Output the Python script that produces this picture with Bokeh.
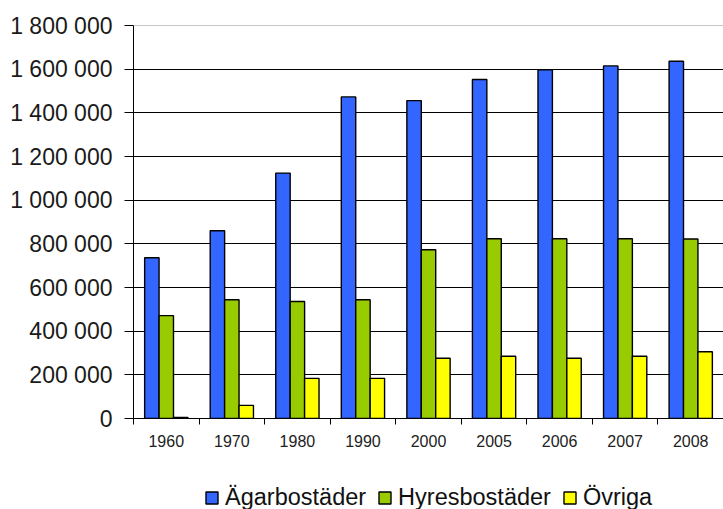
from bokeh.plotting import figure
from bokeh.layouts import column
from bokeh.models import Range1d, FixedTicker, Legend, LegendItem, ColumnDataSource, Span
from bokeh.transform import dodge
from bokeh.embed import file_html
from bokeh.resources import INLINE

years = ["1960", "1970", "1980", "1990", "2000", "2005", "2006", "2007", "2008"]
agarbostader = [736000, 860000, 1124000, 1473000, 1456000, 1553000, 1597000, 1615000, 1636000]
hyresbostader = [471000, 544000, 536000, 544000, 773000, 823000, 823000, 823000, 822000]
ovriga = [5000, 60000, 184000, 184000, 276000, 285000, 276000, 285000, 306000]

series_keys = ["agar", "hyres", "ovriga"]
series_names = ["Ägarbostäder", "Hyresbostäder", "Övriga"]
series_colors = ["#3366FF", "#99CC00", "#FFFF00"]
y_ticks = list(range(0, 1800001, 200000))
Y_MAX = 1800000

FONT = "Liberation Sans"
n = len(years)
x_centers = [i + 0.5 for i in range(n)]
src = ColumnDataSource(dict(x=x_centers, agar=agarbostader, hyres=hyresbostader, ovriga=ovriga))

p = figure(width=723, height=470, output_backend="svg", toolbar_location=None,
           x_range=Range1d(0, n), y_range=Range1d(0, Y_MAX),
           min_border_left=133, min_border_right=0, min_border_top=25, min_border_bottom=52,
           background_fill_color="white", border_fill_color="white")
p.outline_line_color = None

bw = 0.22
offsets = [-bw, 0.0, bw]
for key, col, off in zip(series_keys, series_colors, offsets):
    p.vbar(x=dodge("x", off), top=key, width=bw, source=src,
           fill_color=col, line_color="black", line_width=1.4)

# x axis
p.xaxis.ticker = FixedTicker(ticks=x_centers, minor_ticks=list(range(n + 1)))
p.xaxis.major_label_overrides = {x: y for x, y in zip(x_centers, years)}
p.xaxis.major_tick_line_color = None
p.xaxis.major_tick_out = 6
p.xaxis.major_tick_in = 0
p.xaxis.minor_tick_out = 6
p.xaxis.minor_tick_in = 0
p.xaxis.minor_tick_line_color = "black"
p.xaxis.axis_line_color = "black"
p.xaxis.major_label_text_font = FONT
p.xaxis.major_label_text_font_size = "16px"
p.xaxis.major_label_text_color = "#222222"
p.xaxis.major_label_standoff = 10

# y axis
p.yaxis.ticker = FixedTicker(ticks=y_ticks)
p.yaxis.major_label_overrides = {v: f"{v:,}".replace(",", " ") for v in y_ticks}
p.yaxis.major_tick_out = 9
p.yaxis.major_tick_in = 0
p.yaxis.minor_tick_line_color = None
p.yaxis.major_tick_line_color = "black"
p.yaxis.axis_line_color = "black"
p.yaxis.major_label_text_font = FONT
p.yaxis.major_label_text_font_size = "23px"
p.yaxis.major_label_text_color = "#1a1a1a"
p.yaxis.major_label_standoff = 12

# grid
p.xgrid.visible = False
p.ygrid.ticker = FixedTicker(ticks=y_ticks[1:-1])
p.ygrid.grid_line_color = "black"
p.ygrid.grid_line_width = 1
p.add_layout(Span(location=Y_MAX, dimension="width", line_color="#909090", line_width=1))

# legend strip below the chart
lg = figure(width=723, height=39, output_backend="svg", toolbar_location=None,
            x_range=Range1d(0, n), y_range=Range1d(0, Y_MAX),
            x_axis_type=None, y_axis_type=None,
            min_border_left=133, min_border_right=0, min_border_top=0, min_border_bottom=0,
            background_fill_color="white", border_fill_color="white")
lg.outline_line_color = None
lg_renderers = []
for key, col, off in zip(series_keys, series_colors, offsets):
    r = lg.vbar(x=dodge("x", off), top=key, width=bw, source=src,
                fill_color=col, line_color="black", line_width=1.4, visible=False)
    lg_renderers.append(r)

legend = Legend(items=[LegendItem(label=nm, renderers=[r]) for nm, r in zip(series_names, lg_renderers)],
                location=(71, -2), orientation="horizontal",
                glyph_width=15, glyph_height=15, label_standoff=6, spacing=11,
                padding=0, margin=0, border_line_color=None, background_fill_alpha=0,
                label_text_font=FONT, label_text_font_size="23.5px", label_text_color="#111111")
lg.add_layout(legend, "center")

layout = column(p, lg, spacing=0)
open("out.html", "w").write(file_html(layout, INLINE))
